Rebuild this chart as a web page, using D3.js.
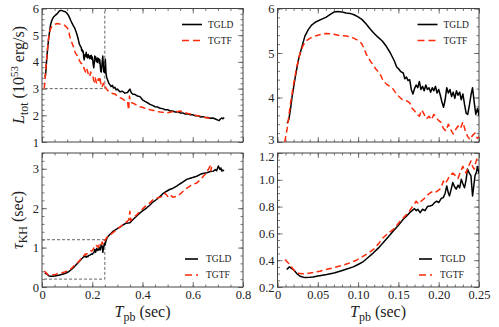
<!DOCTYPE html>
<html>
<head>
<meta charset="utf-8">
<script src="https://cdnjs.cloudflare.com/ajax/libs/d3/7.8.5/d3.min.js"></script>
<style>
body { margin: 0; background: #fff; }
svg text { font-family: 'Liberation Serif', 'Times New Roman', 'DejaVu Serif', serif; fill: #222; }
</style>
</head>
<body>
<svg id="chart" width="499" height="327"></svg>
<script>
// total luminosity, 10^53 erg/s  [Tpb (sec), L]
const lumTGLD = [
    [0.012, 3.42], [0.014, 3.50], [0.016, 3.72], [0.018, 4.0], [0.022, 4.45], [0.026, 4.85], [0.030, 5.12],
    [0.034, 5.38], [0.038, 5.52], [0.042, 5.62], [0.046, 5.68], [0.050, 5.72], [0.055, 5.76], [0.060, 5.80],
    [0.065, 5.86], [0.070, 5.92], [0.075, 5.93], [0.080, 5.92], [0.085, 5.90], [0.090, 5.89], [0.095, 5.86],
    [0.100, 5.81], [0.105, 5.75], [0.110, 5.65], [0.115, 5.54], [0.120, 5.44], [0.125, 5.35], [0.130, 5.27],
    [0.135, 5.15], [0.140, 5.0], [0.145, 4.82], [0.148, 4.68], [0.150, 4.65], [0.153, 4.58], [0.156, 4.55],
    [0.158, 4.42], [0.160, 4.46], [0.162, 4.38], [0.164, 4.40], [0.166, 4.18], [0.168, 4.08], [0.170, 4.20],
    [0.172, 4.28], [0.174, 4.22], [0.176, 4.36], [0.178, 4.18], [0.180, 4.25], [0.182, 4.15], [0.184, 4.28],
    [0.186, 4.18], [0.188, 4.22], [0.190, 4.12], [0.192, 4.22], [0.194, 4.15], [0.196, 4.25], [0.198, 4.10],
    [0.200, 4.18], [0.202, 4.05], [0.204, 3.90], [0.206, 3.78], [0.208, 3.95], [0.210, 4.22], [0.212, 4.10],
    [0.214, 4.18], [0.216, 4.02], [0.218, 4.12], [0.220, 3.98], [0.222, 4.15], [0.224, 4.05], [0.226, 4.12],
    [0.228, 3.95], [0.230, 4.08], [0.232, 3.85], [0.234, 3.65], [0.236, 3.62], [0.238, 3.82], [0.240, 4.05],
    [0.242, 4.22], [0.244, 3.90], [0.246, 3.62], [0.248, 3.75], [0.250, 3.60], [0.252, 4.10], [0.255, 3.55],
    [0.258, 3.40], [0.262, 3.30], [0.266, 3.20], [0.270, 3.15], [0.275, 3.08], [0.280, 3.12], [0.285, 3.02],
    [0.290, 3.05], [0.295, 2.95], [0.300, 2.98], [0.310, 2.88], [0.320, 2.90], [0.330, 2.83], [0.340, 2.85],
    [0.345, 2.92], [0.350, 2.98], [0.355, 2.85], [0.360, 2.80], [0.370, 2.78], [0.380, 2.72], [0.390, 2.70],
    [0.400, 2.58], [0.410, 2.52], [0.420, 2.47], [0.430, 2.41], [0.440, 2.37], [0.450, 2.32], [0.460, 2.31],
    [0.470, 2.26], [0.480, 2.25], [0.490, 2.21], [0.500, 2.21], [0.510, 2.16], [0.520, 2.16], [0.530, 2.12],
    [0.540, 2.13], [0.550, 2.09], [0.560, 2.09], [0.570, 2.05], [0.580, 2.06], [0.590, 2.02], [0.600, 2.02],
    [0.610, 1.98], [0.620, 1.98], [0.630, 1.94], [0.640, 1.95], [0.650, 1.92], [0.660, 1.92], [0.670, 1.89],
    [0.680, 1.90], [0.690, 1.86], [0.700, 1.82], [0.705, 1.80], [0.710, 1.86], [0.715, 1.90], [0.720, 1.87],
    [0.725, 1.92]
];
const lumTGTF = [
    [0.009, 3.00], [0.012, 3.30], [0.016, 3.85], [0.020, 4.30], [0.024, 4.70], [0.028, 5.0], [0.032, 5.18],
    [0.036, 5.28], [0.040, 5.33], [0.045, 5.37], [0.050, 5.40], [0.055, 5.42], [0.060, 5.44], [0.065, 5.43],
    [0.070, 5.42], [0.075, 5.40], [0.080, 5.39], [0.085, 5.38], [0.090, 5.37], [0.095, 5.33], [0.100, 5.28],
    [0.104, 5.22], [0.107, 5.12], [0.110, 4.98], [0.113, 4.88], [0.116, 4.80], [0.119, 4.72], [0.122, 4.64],
    [0.125, 4.58], [0.128, 4.50], [0.131, 4.38], [0.134, 4.32], [0.137, 4.28], [0.140, 4.24], [0.143, 4.20],
    [0.146, 4.12], [0.149, 4.05], [0.152, 4.00], [0.155, 3.95], [0.158, 3.94], [0.161, 3.92], [0.164, 3.88],
    [0.167, 3.76], [0.170, 3.70], [0.173, 3.62], [0.176, 3.58], [0.179, 3.72], [0.182, 3.62], [0.185, 3.52],
    [0.188, 3.58], [0.191, 3.50], [0.194, 3.62], [0.197, 3.55], [0.200, 3.48], [0.203, 3.44], [0.206, 3.30],
    [0.209, 3.25], [0.212, 3.40], [0.215, 3.28], [0.218, 3.18], [0.221, 3.28], [0.224, 3.36], [0.227, 3.30],
    [0.230, 3.45], [0.233, 3.25], [0.236, 3.12], [0.239, 3.05], [0.242, 3.15], [0.245, 3.20], [0.248, 3.08],
    [0.250, 3.12], [0.255, 3.00], [0.260, 2.95], [0.265, 2.90], [0.270, 2.88], [0.280, 2.82], [0.290, 2.80],
    [0.300, 2.72], [0.310, 2.66], [0.320, 2.62], [0.330, 2.55], [0.340, 2.52], [0.345, 2.20], [0.348, 2.72],
    [0.352, 2.50], [0.360, 2.46], [0.370, 2.42], [0.380, 2.36], [0.390, 2.32], [0.400, 2.30], [0.410, 2.26],
    [0.420, 2.24], [0.430, 2.21], [0.440, 2.19], [0.450, 2.16], [0.460, 2.14], [0.470, 2.12], [0.480, 2.11],
    [0.490, 2.12], [0.500, 2.10], [0.510, 2.11], [0.520, 2.14], [0.530, 2.17], [0.540, 2.13], [0.550, 2.16],
    [0.560, 2.12], [0.570, 2.10], [0.580, 2.07], [0.590, 2.05], [0.600, 2.02], [0.610, 2.00], [0.620, 1.98],
    [0.630, 1.97], [0.640, 1.94], [0.650, 1.92], [0.660, 1.90], [0.670, 1.88], [0.675, 1.87]
];
// Kelvin-Helmholtz timescale, sec  [Tpb (sec), tau]
const tauTGLD = [
    [0.0114, 0.331], [0.0147, 0.350], [0.0196, 0.330], [0.024, 0.300], [0.028, 0.280], [0.034, 0.270],
    [0.040, 0.272], [0.044, 0.275], [0.050, 0.282], [0.056, 0.288], [0.061, 0.293], [0.070, 0.305],
    [0.0775, 0.318], [0.085, 0.332], [0.094, 0.350], [0.100, 0.368], [0.1065, 0.390], [0.112, 0.418],
    [0.119, 0.455], [0.125, 0.490], [0.131, 0.530], [0.137, 0.572], [0.1437, 0.617], [0.150, 0.660],
    [0.156, 0.705], [0.160, 0.728], [0.164, 0.755], [0.167, 0.770], [0.170, 0.785], [0.172, 0.770],
    [0.174, 0.780], [0.177, 0.755], [0.180, 0.780], [0.183, 0.770], [0.186, 0.800], [0.189, 0.804],
    [0.192, 0.810], [0.195, 0.830], [0.1975, 0.840], [0.200, 0.830], [0.203, 0.860], [0.2057, 0.867],
    [0.208, 0.900], [0.210, 0.954], [0.212, 0.900], [0.2134, 0.880], [0.2155, 0.930], [0.2175, 0.980],
    [0.2195, 0.950], [0.2217, 0.930], [0.224, 0.960], [0.226, 0.940], [0.228, 1.004], [0.230, 0.970],
    [0.232, 0.940], [0.234, 1.000], [0.2357, 1.080], [0.238, 1.050], [0.240, 1.030], [0.242, 0.880],
    [0.2435, 0.950], [0.245, 1.030], [0.247, 1.060], [0.248, 1.100], [0.250, 1.050], [0.255, 1.18],
    [0.260, 1.26], [0.270, 1.33], [0.284, 1.42], [0.300, 1.48], [0.310, 1.52], [0.324, 1.58], [0.335, 1.62],
    [0.350, 1.63], [0.360, 1.70], [0.377, 1.80], [0.390, 1.88], [0.400, 1.93], [0.417, 2.01], [0.430, 2.08],
    [0.440, 2.15], [0.456, 2.22], [0.470, 2.30], [0.480, 2.36], [0.496, 2.43], [0.510, 2.48], [0.520, 2.50],
    [0.536, 2.56], [0.550, 2.62], [0.560, 2.66], [0.576, 2.73], [0.590, 2.76], [0.600, 2.78], [0.616, 2.81],
    [0.630, 2.86], [0.640, 2.88], [0.656, 2.90], [0.670, 2.93], [0.682, 2.94], [0.690, 2.98], [0.695, 2.95],
    [0.702, 3.07], [0.708, 2.98], [0.712, 3.02], [0.716, 2.94], [0.720, 2.97], [0.724, 2.94]
];
const tauTGTF = [
    [0.0093, 0.406], [0.0125, 0.385], [0.0155, 0.368], [0.0185, 0.340], [0.0217, 0.318], [0.025, 0.305],
    [0.028, 0.300], [0.032, 0.298], [0.036, 0.300], [0.044, 0.308], [0.0527, 0.318], [0.060, 0.330],
    [0.069, 0.343], [0.080, 0.360], [0.090, 0.380], [0.098, 0.400], [0.1065, 0.430], [0.113, 0.455],
    [0.119, 0.480], [0.125, 0.520], [0.131, 0.568], [0.137, 0.600], [0.1437, 0.630], [0.148, 0.660],
    [0.152, 0.690], [0.156, 0.715], [0.160, 0.740], [0.164, 0.770], [0.168, 0.804], [0.170, 0.820],
    [0.172, 0.840], [0.175, 0.820], [0.178, 0.840], [0.182, 0.860], [0.185, 0.880], [0.189, 0.900],
    [0.1935, 0.917], [0.197, 0.910], [0.2016, 0.930], [0.204, 0.960], [0.2057, 0.990], [0.208, 0.970],
    [0.211, 1.000], [0.2134, 1.030], [0.2175, 1.050], [0.221, 1.030], [0.224, 1.010], [0.227, 1.060],
    [0.230, 1.100], [0.232, 1.070], [0.234, 1.050], [0.237, 1.100], [0.240, 1.140], [0.242, 1.100],
    [0.244, 1.080], [0.246, 1.130], [0.248, 1.166], [0.250, 1.180], [0.257, 1.25], [0.270, 1.32],
    [0.290, 1.42], [0.310, 1.52], [0.330, 1.62], [0.345, 1.70], [0.350, 1.92], [0.352, 1.68], [0.360, 1.74],
    [0.375, 1.82], [0.390, 1.92], [0.410, 2.04], [0.430, 2.14], [0.443, 2.22], [0.460, 2.26], [0.470, 2.28],
    [0.483, 2.30], [0.490, 2.38], [0.500, 2.30], [0.510, 2.35], [0.520, 2.28], [0.536, 2.30], [0.550, 2.36],
    [0.562, 2.43], [0.575, 2.50], [0.589, 2.56], [0.600, 2.60], [0.616, 2.64], [0.630, 2.72], [0.642, 2.81],
    [0.650, 2.86], [0.656, 2.94], [0.662, 2.98], [0.669, 3.07], [0.672, 2.95], [0.675, 3.05]
];

const seriesNames = ['TGLD', 'TGTF'];
const xTicksFull = [0, 0.2, 0.4, 0.6, 0.8];
const xTicksZoom = [0, 0.05, 0.10, 0.15, 0.20, 0.25];
const yTicksLum = [1, 2, 3, 4, 5, 6];
const yTicksLumZoom = [3, 4, 5, 6];
const yTicksTau = [0, 1, 2, 3];
const yTicksTauZoom = [0.2, 0.4, 0.6, 0.8, 1.0, 1.2];
// zoom window drawn on the full-range panels
const lumZoomBox = [[0, 0.25], [3, 6]];
const tauZoomBox = [[0, 0.25], [0.2, 1.2]];

const serif = "'Liberation Serif', 'Times New Roman', 'DejaVu Serif', serif";
const svg = d3.select('#chart').attr('font-family', serif);
const red = '#ff2a0a';

const panels = [
    {id: 'tl', x0: 42, x1: 243, y0: 8.5, y1: 142, xd: [0, 0.8], yd: [1, 6], xt: xTicksFull, yt: yTicksLum,
        xminor: 0.05, yminor: 0.2, xlab: false, data: [lumTGLD, lumTGTF], box: lumZoomBox, leg: [140, 16, 20, 6], yfmt: d3.format('d')},
    {id: 'tr', x0: 277.5, x1: 479, y0: 8.5, y1: 142, xd: [0, 0.25], yd: [3, 6], xt: xTicksZoom, yt: yTicksLumZoom,
        xminor: 0.01, yminor: 0.2, xlab: false, data: [lumTGLD, lumTGTF], leg: [140, 16, 20, 6], yfmt: d3.format('d'), nudge: -3},
    {id: 'bl', x0: 42, x1: 243, y0: 153, y1: 287, xd: [0, 0.8], yd: [0, 3.4], xt: xTicksFull, yt: yTicksTau,
        xminor: 0.05, yminor: 0.2, xlab: true, data: [tauTGLD, tauTGTF], box: tauZoomBox, leg: [143, 106, 13, 8], xfmt: d3.format('.1f'), yfmt: d3.format('d')},
    {id: 'br', x0: 277.5, x1: 479, y0: 153, y1: 287, xd: [0, 0.25], yd: [0.2, 1.2], xt: xTicksZoom, yt: yTicksTauZoom,
        xminor: 0.01, yminor: 0.05, xlab: true, data: [tauTGLD, tauTGTF], leg: [141.5, 106, 13, 8], xfmt: d3.format('.2f'), yfmt: d3.format('.1f'), nudge: 3}
];

const defs = svg.append('defs');

panels.forEach(p => {
    const w = p.x1 - p.x0, h = p.y1 - p.y0;
    const x = d3.scaleLinear().domain(p.xd).range([0, w]);
    const y = d3.scaleLinear().domain(p.yd).range([h, 0]);
    const g = svg.append('g').attr('transform', `translate(${p.x0},${p.y0})`);

    defs.append('clipPath').attr('id', 'clip-' + p.id)
        .append('rect').attr('width', w).attr('height', h);

    const fmt0 = f => (v => v === 0 ? '0' : f(v));
    const xMinor = d3.range(p.xd[0], p.xd[1] + 1e-9, p.xminor);
    const yMinor = d3.range(p.yd[0], p.yd[1] + 1e-9, p.yminor);

    const axes = [
        {make: () => d3.axisBottom(x), t: `translate(0,${h})`, major: p.xt, minor: xMinor, lab: p.xlab ? fmt0(p.xfmt) : null},
        {make: () => d3.axisTop(x), t: 'translate(0,0)', major: p.xt, minor: xMinor, lab: null},
        {make: () => d3.axisLeft(y), t: 'translate(0,0)', major: p.yt, minor: yMinor, lab: p.yfmt, left: true},
        {make: () => d3.axisRight(y), t: `translate(${w},0)`, major: p.yt, minor: yMinor, lab: null}
    ];
    axes.forEach(ax => {
        const mk = (vals, size, lab) => {
            const axis = ax.make().tickValues(vals).tickSizeInner(-size).tickSizeOuter(0).tickPadding(3)
                .tickFormat(lab || (() => ''));
            const gg = g.append('g').attr('transform', ax.t).call(axis)
                .attr('font-family', serif).attr('font-size', 12.5);
            gg.select('.domain').remove();
            gg.selectAll('line').attr('stroke', '#555').attr('stroke-width', 0.8);
            gg.selectAll('text').attr('fill', '#222');
            return gg;
        };
        mk(ax.minor, 2.5, null);
        const gm = mk(ax.major, 5, ax.lab);
        // keep the stacked labels at the panel seam apart
        if (ax.left && p.nudge) {
            gm.selectAll('.tick text')
                .filter(v => (p.nudge < 0 ? v === p.yd[0] : v === p.yd[1]))
                .attr('y', p.nudge);
        }
    });

    g.append('rect').attr('width', w).attr('height', h)
        .attr('fill', 'none').attr('stroke', '#444').attr('stroke-width', 1);

    if (p.box) {
        g.append('path')
            .attr('d', `M${x(p.box[0][0])},${y(p.box[1][1])}H${x(p.box[0][1])}V${y(p.box[1][0])}H${x(p.box[0][0])}`)
            .attr('fill', 'none').attr('stroke', '#555').attr('stroke-width', 0.9)
            .attr('stroke-dasharray', '3,2');
    }

    const line = d3.line().x(d => x(d[0])).y(d => y(d[1]));
    const plot = g.append('g').attr('clip-path', `url(#clip-${p.id})`);
    p.data.forEach((series, i) => {
        const pts = series.filter(d => d[0] <= p.xd[1] + 0.002);
        plot.append('path').datum(pts)
            .attr('d', line)
            .attr('fill', 'none')
            .attr('stroke', i === 0 ? '#000' : red)
            .attr('stroke-width', 1.5)
            .attr('stroke-linejoin', 'round')
            .attr('stroke-dasharray', i === 0 ? null : '6,3.5');
    });

    // legend
    const [lx, ly, len, gap] = p.leg;
    seriesNames.forEach((name, i) => {
        const yy = ly + i * 16;
        g.append('line').attr('x1', lx).attr('x2', lx + len).attr('y1', yy).attr('y2', yy)
            .attr('stroke', i === 0 ? '#000' : red).attr('stroke-width', 1.6)
            .attr('stroke-dasharray', i === 0 ? null : '7,4');
        g.append('text').attr('x', lx + len + gap).attr('y', yy + 3.2)
            .attr('font-family', serif).attr('font-size', 9.5).text(name);
    });
});

// axis titles
function xTitle(cx) {
    const t = svg.append('text').attr('x', cx).attr('y', 317).attr('text-anchor', 'middle')
        .attr('font-size', 16);
    t.append('tspan').attr('font-style', 'italic').text('T');
    t.append('tspan').attr('dy', 4).attr('font-size', 12).text('pb');
    t.append('tspan').attr('dy', -4).text(' (sec)');
}
xTitle(142.5);
xTitle(378);

const ly1 = svg.append('text').attr('transform', 'translate(24,75) rotate(-90)')
    .attr('text-anchor', 'middle').attr('font-size', 16);
ly1.append('tspan').attr('font-style', 'italic').text('L');
ly1.append('tspan').attr('dy', 4).attr('font-size', 12).text('tot');
ly1.append('tspan').attr('dy', -4).text(' (10');
ly1.append('tspan').attr('dy', -6).attr('font-size', 11).text('53');
ly1.append('tspan').attr('dy', 6).text(' erg/s)');

const ly2 = svg.append('text').attr('transform', 'translate(23,220) rotate(-90)')
    .attr('text-anchor', 'middle').attr('font-size', 16);
ly2.append('tspan').attr('font-style', 'italic').text('τ');
ly2.append('tspan').attr('dy', 4).attr('font-size', 12).text('KH');
ly2.append('tspan').attr('dy', -4).text(' (sec)');
</script>
</body>
</html>
